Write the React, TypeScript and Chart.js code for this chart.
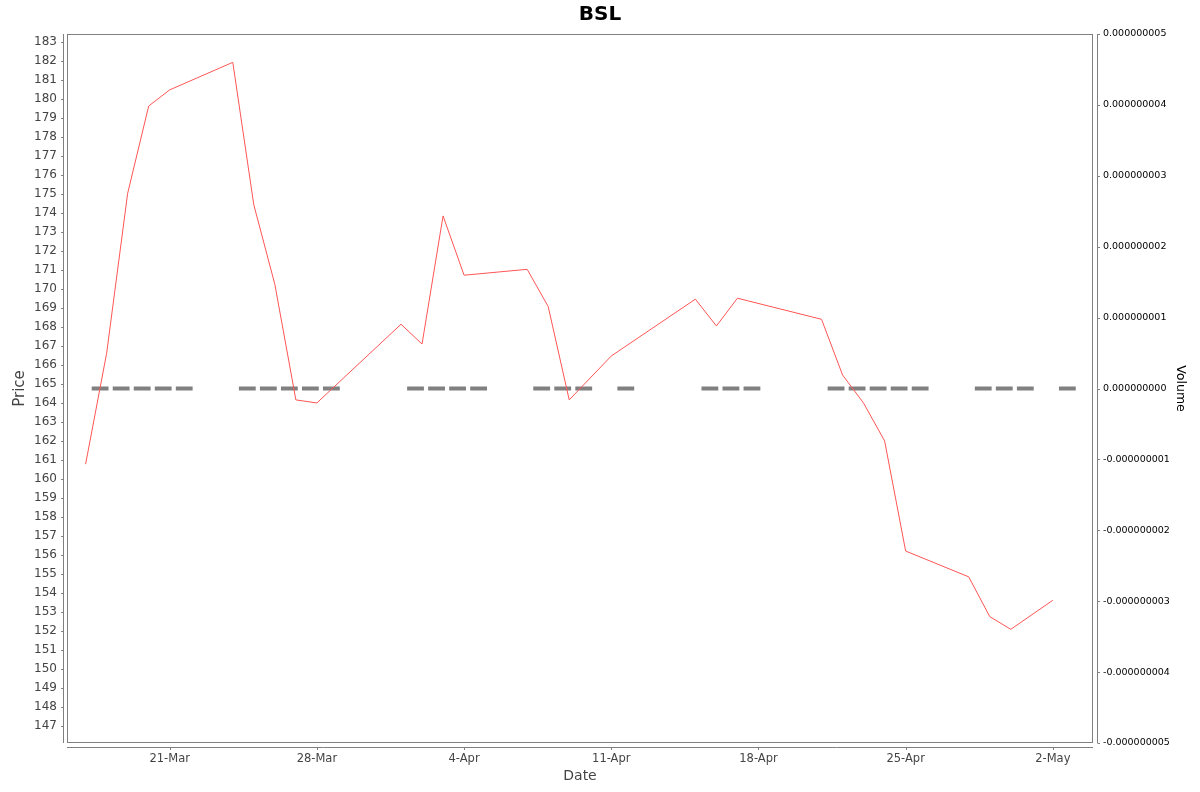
import { useEffect, useRef } from "react";
import { Chart, registerables } from "chart.js";

Chart.register(...registerables);

// trading days shown on the chart
const tradeDates = [
  "2025-03-17", "2025-03-18", "2025-03-19", "2025-03-20", "2025-03-21",
  "2025-03-24", "2025-03-25", "2025-03-26", "2025-03-27", "2025-03-28",
  "2025-04-01", "2025-04-02", "2025-04-03", "2025-04-04",
  "2025-04-07", "2025-04-08", "2025-04-09", "2025-04-11",
  "2025-04-15", "2025-04-16", "2025-04-17",
  "2025-04-21", "2025-04-22", "2025-04-23", "2025-04-24", "2025-04-25",
  "2025-04-28", "2025-04-29", "2025-04-30",
  "2025-05-02",
];

const closePrices = [
  160.79, 166.62, 175.04, 179.63, 180.48,
  181.93, 174.43, 170.25, 164.17, 164.01,
  168.15, 167.11, 173.85, 170.73,
  171.04, 169.08, 164.17, 166.48,
  169.47, 168.06, 169.52,
  168.41, 165.48, 164.0, 162.01, 156.22,
  154.86, 152.77, 152.1,
  153.63,
];

const volumes = [
  0, 0, 0, 0, 0,
  0, 0, 0, 0, 0,
  0, 0, 0, 0,
  0, 0, 0, 0,
  0, 0, 0,
  0, 0, 0, 0, 0,
  0, 0, 0,
  0,
];

const dateTickDates = [
  "2025-03-21", "2025-03-28", "2025-04-04", "2025-04-11",
  "2025-04-18", "2025-04-25", "2025-05-02",
];
const dateTickLabels = ["21-Mar", "28-Mar", "4-Apr", "11-Apr", "18-Apr", "25-Apr", "2-May"];

const volumeTicks = [-5e-9, -4e-9, -3e-9, -2e-9, -1e-9, 0, 1e-9, 2e-9, 3e-9, 4e-9, 5e-9];

const DAY_MS = 86400000;
const BASE = Date.parse("2025-03-17T00:00:00Z");
const dayIndex = (s: string) => (Date.parse(s + "T00:00:00Z") - BASE) / DAY_MS;

const AXIS_GREY = "#808080";
const FONT = "DejaVu Sans";

// plot border + axis lines offset a few pixels from the plot, like the original
const axisFrame = {
  id: "axisFrame",
  afterDraw(chart: Chart) {
    const { ctx, chartArea: a } = chart;
    const y = chart.scales.y;
    const y1 = chart.scales.y1;
    const x = chart.scales.x;
    ctx.save();
    ctx.strokeStyle = AXIS_GREY;
    ctx.lineWidth = 1;
    ctx.strokeRect(a.left + 0.5, a.top + 0.5, a.right - a.left - 1, a.bottom - a.top - 1);

    const seg = (x0: number, y0: number, x1: number, yy1: number) => {
      ctx.beginPath();
      ctx.moveTo(x0, y0);
      ctx.lineTo(x1, yy1);
      ctx.stroke();
    };

    const lx = a.left - 4 + 0.5;
    seg(lx, a.top, lx, a.bottom);
    y.ticks.forEach((t) => {
      const p = Math.round(y.getPixelForValue(t.value)) + 0.5;
      seg(lx - 2.5, p, lx, p);
    });

    const rx = a.right + 4 + 0.5;
    seg(rx, a.top, rx, a.bottom);
    y1.ticks.forEach((t) => {
      const p = Math.round(y1.getPixelForValue(t.value)) + 0.5;
      seg(rx, p, rx + 2.5, p);
    });

    const by = a.bottom + 4 + 0.5;
    seg(a.left, by, a.right, by);
    x.ticks.forEach((t) => {
      const p = Math.round(x.getPixelForValue(t.value)) + 0.5;
      seg(p, by, p, by + 2.5);
    });
    ctx.restore();
  },
};

export default function App() {
  const ref = useRef<HTMLCanvasElement | null>(null);

  useEffect(() => {
    if (!ref.current) return;
    const ctx = ref.current.getContext("2d");
    if (!ctx) return;

    const pricePoints = tradeDates.map((d, i) => ({ x: dayIndex(d), y: closePrices[i] }));

    // each zero-height volume bar shows up as a short thick dash
    const volumePoints: { x: number; y: number | null }[] = [];
    tradeDates.forEach((d, i) => {
      const c = dayIndex(d) + 0.69;
      volumePoints.push({ x: c - 0.4, y: volumes[i] });
      volumePoints.push({ x: c + 0.4, y: volumes[i] });
      volumePoints.push({ x: c + 0.45, y: null });
    });

    const tickValues = dateTickDates.map(dayIndex);

    const chart = new Chart(ctx, {
      type: "line",
      data: {
        datasets: [
          {
            label: "Price",
            data: pricePoints,
            borderColor: "#ff5555",
            borderWidth: 1,
            pointRadius: 0,
            tension: 0,
            yAxisID: "y",
            order: 0,
          },
          {
            label: "Volume",
            data: volumePoints,
            borderColor: "#808080",
            borderWidth: 4,
            borderCapStyle: "butt",
            pointRadius: 0,
            spanGaps: false,
            yAxisID: "y1",
            order: 1,
          },
        ],
      },
      options: {
        animation: false,
        responsive: false,
        layout: { padding: 0 },
        plugins: {
          legend: { display: false },
          tooltip: { enabled: false },
          title: {
            display: true,
            text: "BSL",
            color: "#000",
            font: { family: FONT, size: 20, weight: "bold" },
            padding: { top: 3, bottom: 7 },
          },
        },
        scales: {
          x: {
            type: "linear",
            min: -0.885,
            max: 47.91,
            grid: { display: false, drawTicks: false, tickLength: 0 },
            border: { display: false },
            afterBuildTicks: (scale) => {
              scale.ticks = tickValues.map((v) => ({ value: v }));
            },
            ticks: {
              autoSkip: false,
              maxRotation: 0,
              padding: 9,
              color: "#444",
              font: { family: FONT, size: 11.5 },
              callback: (v) => {
                const i = tickValues.indexOf(Number(v));
                return i >= 0 ? dateTickLabels[i] : "";
              },
            },
            title: {
              display: true,
              text: "Date",
              color: "#444",
              font: { family: FONT, size: 14 },
              padding: { top: 0, bottom: 7 },
            },
            afterFit: (scale) => {
              scale.height = 49;
            },
          },
          y: {
            position: "left",
            min: 146.12,
            max: 183.42,
            grid: { display: false, drawTicks: false, tickLength: 0 },
            border: { display: false },
            ticks: {
              stepSize: 1,
              includeBounds: false,
              autoSkip: false,
              padding: 10,
              color: "#444",
              font: { family: FONT, size: 12 },
              callback: (v) => String(Math.round(Number(v))),
            },
            title: {
              display: true,
              text: "Price",
              color: "#444",
              font: { family: FONT, size: 15 },
              padding: { top: 11.5, bottom: 0 },
            },
            afterFit: (scale) => {
              scale.width = 67;
            },
          },
          y1: {
            position: "right",
            min: -5e-9,
            max: 5e-9,
            grid: { display: false, drawTicks: false, tickLength: 0 },
            border: { display: false },
            afterBuildTicks: (scale) => {
              scale.ticks = volumeTicks.map((v) => ({ value: v }));
            },
            ticks: {
              autoSkip: false,
              padding: 10,
              color: "#000",
              font: { family: FONT, size: 9.5 },
              callback: (v) => {
                const n = Number(v);
                return (Math.abs(n) < 1e-15 ? 0 : n).toFixed(9);
              },
            },
            title: {
              display: true,
              text: "Volume",
              color: "#000",
              font: { family: FONT, size: 12.5 },
              padding: { top: 12, bottom: 0 },
            },
            afterFit: (scale) => {
              scale.width = 107;
            },
          },
        },
      },
      plugins: [axisFrame],
    });

    return () => chart.destroy();
  }, []);

  return (
    <div style={{ position: "absolute", left: 0, top: 0, width: 1200, height: 792, background: "#fff" }}>
      <canvas ref={ref} width={1200} height={792} />
    </div>
  );
}
